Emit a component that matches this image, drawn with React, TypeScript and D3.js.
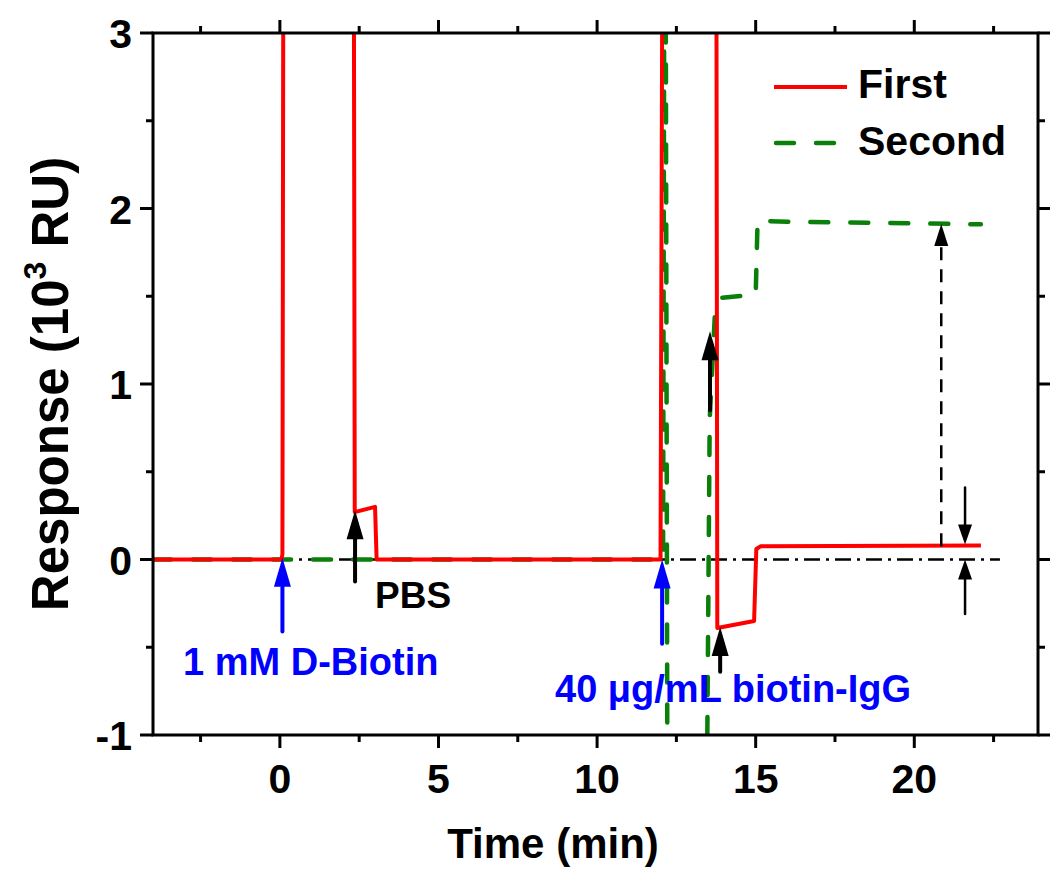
import React from 'react';
import * as d3 from 'd3';

const W = 1050;
const H = 879;

const xDomain = [-4, 23.9];
const yDomain = [-1, 3];
const xMajorTicks = [0, 5, 10, 15, 20];
const xMinorTicks = [-2.5, 2.5, 7.5, 12.5, 17.5, 22.5];
const yMajorTicks = [-1, 0, 1, 2, 3];
const yMinorTicks = [-0.5, 0.5, 1.5, 2.5];

// "First" run (red, solid)
const firstTime = [-4.0, 0.05, 0.08, 0.11, 2.33, 2.36, 3.0, 3.05, 12.0, 12.06, 13.76, 13.79, 14.95, 15.02, 15.15, 22.1];
const firstResp = [0.0, 0.0, 0.03, 3.6, 3.6, 0.27, 0.3, 0.0, 0.0, 3.6, 3.6, -0.39, -0.35, 0.06, 0.075, 0.08];

// "Second" run (green, dashed)
const secondTime = [-4.0, 12.08, 12.12, 12.16, 12.22, 13.45, 13.55, 13.72, 13.9, 15.0, 15.06, 16.0, 22.1];
const secondResp = [0.0, 0.0, 3.6, 3.6, -1.6, -1.6, 0.8, 1.42, 1.49, 1.51, 1.93, 1.925, 1.91];

// annotation arrows: time, tail response, tip response, kind
const arrowTime = [0.08, 2.37, 12.05, 13.88, 13.56, 21.6, 21.6];
const arrowTail = [-0.41, -0.125, -0.48, -0.64, 0.85, 0.41, -0.31];
const arrowTip = [0.01, 0.28, 0.0, -0.385, 1.3, 0.085, 0.0];
const arrowKind = ['blue', 'black', 'blue', 'black', 'black', 'small', 'small'];

// dashed difference arrow
const diffTime = 20.85;
const diffFrom = 0.075;
const diffTo = 1.9;

const labels = ['1 mM D-Biotin', 'PBS', '40 \u03bcg/mL biotin-IgG'];
const legendNames = ['First', 'Second'];

const FONT = '"Liberation Sans", Arial, Helvetica, sans-serif';
const RED = '#ff0000';
const GREEN = '#0a800a';
const BLUE = '#0000ff';

export default function App() {
  const L = 153, R = 1038, T = 33, B = 735;
  const x = d3.scaleLinear().domain(xDomain).range([L, R]);
  const y = d3.scaleLinear().domain(yDomain).range([B, T]);

  const line = d3
    .line<[number, number]>()
    .x((d) => x(d[0]))
    .y((d) => y(d[1]));

  const firstPts = firstTime.map((t, i) => [t, firstResp[i]] as [number, number]);
  const secondPts = secondTime.map((t, i) => [t, secondResp[i]] as [number, number]);

  const arrow = (i: number) => {
    const kind = arrowKind[i];
    const color = kind === 'blue' ? BLUE : '#000';
    const headLen = kind === 'small' ? 20 : 29;
    const headW = kind === 'small' ? 14 : 17;
    const sw = kind === 'small' ? 2.5 : 4;
    const px = x(arrowTime[i]);
    const yTail = y(arrowTail[i]);
    const yTip = y(arrowTip[i]);
    const dir = yTip < yTail ? 1 : -1; // 1 = up
    const yBase = yTip + dir * headLen;
    return (
      <g key={'a' + i}>
        <line x1={px} y1={yTail} x2={px} y2={yBase} stroke={color} strokeWidth={sw} strokeLinecap="round" />
        <polygon
          points={`${px},${yTip} ${px - headW / 2},${yBase} ${px + headW / 2},${yBase}`}
          fill={color}
        />
      </g>
    );
  };

  const tickLen = 13;
  const minorLen = 7;
  const axisSW = 3;

  const dx = x(diffTime);
  const dyFrom = y(diffFrom);
  const dyTo = y(diffTo);

  return (
    <svg
      width={W}
      height={H}
      style={{ position: 'absolute', left: 0, top: 0, background: '#fff' }}
      fontFamily={FONT}
      fontWeight="bold"
    >
      <rect x={0} y={0} width={W} height={H} fill="#fff" />
      <defs>
        <clipPath id="plotClip">
          <rect x={L} y={T} width={R - L} height={B - T} />
        </clipPath>
      </defs>

      {/* zero reference dash-dot line */}
      <line
        x1={L}
        x2={x(22.7)}
        y1={y(0)}
        y2={y(0)}
        stroke="#000"
        strokeWidth={2.5}
        strokeDasharray="16,6,3,6"
      />

      <g clipPath="url(#plotClip)">
        <path
          d={line(secondPts) || ''}
          fill="none"
          stroke={GREEN}
          strokeWidth={4.5}
          strokeDasharray="18,22"
          strokeLinecap="round"
          strokeLinejoin="round"
        />
        <path d={line(firstPts) || ''} fill="none" stroke={RED} strokeWidth={4} strokeLinejoin="round" />
      </g>

      {/* dashed difference arrow */}
      <line x1={dx} x2={dx} y1={dyFrom} y2={dyTo + 20} stroke="#000" strokeWidth={2.5} strokeDasharray="13,9" />
      <polygon points={`${dx},${dyTo - 2} ${dx - 7},${dyTo + 20} ${dx + 7},${dyTo + 20}`} fill="#000" />

      {arrowTime.map((_, i) => arrow(i))}

      {/* annotation labels */}
      <text x={183} y={675} fill={BLUE} fontSize={38}>{labels[0]}</text>
      <text x={375} y={608} fill="#000" fontSize={37}>{labels[1]}</text>
      <text x={555} y={702} fill={BLUE} fontSize={38}>{labels[2]}</text>

      {/* frame */}
      <rect x={L} y={T} width={R - L} height={B - T} fill="none" stroke="#000" strokeWidth={axisSW} />

      {/* x ticks bottom & top */}
      {xMajorTicks.map((t) => (
        <g key={'xm' + t}>
          <line x1={x(t)} x2={x(t)} y1={B} y2={B + tickLen} stroke="#000" strokeWidth={axisSW} />
          <line x1={x(t)} x2={x(t)} y1={T} y2={T - tickLen} stroke="#000" strokeWidth={axisSW} />
          <text x={x(t)} y={793} textAnchor="middle" fontSize={41}>{t}</text>
        </g>
      ))}
      {xMinorTicks.map((t) => (
        <g key={'xn' + t}>
          <line x1={x(t)} x2={x(t)} y1={B} y2={B + minorLen} stroke="#000" strokeWidth={axisSW} />
          <line x1={x(t)} x2={x(t)} y1={T} y2={T - minorLen} stroke="#000" strokeWidth={axisSW} />
        </g>
      ))}
      {/* y ticks left & right */}
      {yMajorTicks.map((t) => (
        <g key={'ym' + t}>
          <line x1={L} x2={L - tickLen} y1={y(t)} y2={y(t)} stroke="#000" strokeWidth={axisSW} />
          <line x1={R} x2={R + tickLen} y1={y(t)} y2={y(t)} stroke="#000" strokeWidth={axisSW} />
          <text x={132} y={y(t) + 15} textAnchor="end" fontSize={41}>{t}</text>
        </g>
      ))}
      {yMinorTicks.map((t) => (
        <g key={'yn' + t}>
          <line x1={L} x2={L - minorLen} y1={y(t)} y2={y(t)} stroke="#000" strokeWidth={axisSW} />
          <line x1={R} x2={R + minorLen} y1={y(t)} y2={y(t)} stroke="#000" strokeWidth={axisSW} />
        </g>
      ))}

      {/* axis titles */}
      <text x={553} y={858} textAnchor="middle" fontSize={42}>Time (min)</text>
      <text transform="translate(68,384) rotate(-90)" textAnchor="middle" fontSize={51}>
        Response (10
        <tspan fontSize={32} dy={-22}>3</tspan>
        <tspan dy={22}> RU)</tspan>
      </text>

      {/* legend */}
      <line x1={774} x2={847} y1={87} y2={87} stroke={RED} strokeWidth={4} />
      <text x={858} y={98} fontSize={41}>{legendNames[0]}</text>
      <line
        x1={776}
        x2={840}
        y1={143}
        y2={143}
        stroke={GREEN}
        strokeWidth={4.5}
        strokeDasharray="18,22"
        strokeLinecap="round"
      />
      <text x={858} y={155} fontSize={41}>{legendNames[1]}</text>
    </svg>
  );
}
